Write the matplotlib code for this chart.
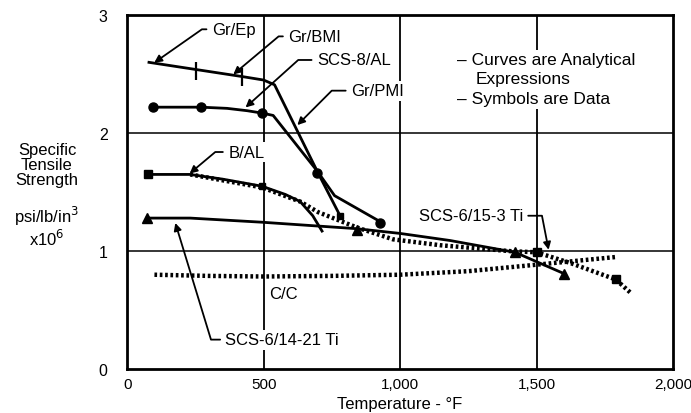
import matplotlib
matplotlib.use("Agg")
import matplotlib.pyplot as plt

plt.rcParams["font.family"] = ["Liberation Sans", "DejaVu Sans"]
plt.rcParams["font.size"] = 12

# --- curves (analytical expressions) ---
gr_x = [80, 250, 420, 500, 540, 700, 780]
gr_y = [2.60, 2.54, 2.48, 2.45, 2.41, 1.66, 1.30]

scs8_x = [95, 271, 366, 440, 494, 535, 696, 760, 927]
scs8_y = [2.22, 2.22, 2.21, 2.19, 2.17, 2.15, 1.68, 1.47, 1.25]

bal_x = [77, 230, 350, 494, 580, 634, 680, 714]
bal_y = [1.65, 1.65, 1.61, 1.55, 1.48, 1.42, 1.30, 1.17]

ti1421_x = [73, 231, 494, 842, 1000, 1183, 1421, 1600]
ti1421_y = [1.28, 1.28, 1.245, 1.19, 1.15, 1.09, 0.99, 0.81]

ti153_x = [231, 494, 634, 700, 842, 974, 1147, 1403, 1500, 1623, 1790, 1843]
ti153_y = [1.65, 1.54, 1.42, 1.33, 1.20, 1.10, 1.05, 1.00, 0.99, 0.90, 0.76, 0.65]

cc_x = [100, 300, 500, 750, 1000, 1250, 1500, 1790]
cc_y = [0.80, 0.79, 0.785, 0.79, 0.80, 0.83, 0.885, 0.95]

# --- symbols (data) ---
gr_pts_x = [253, 421]
gr_pts_y = [2.53, 2.48]
gr_end_x = [780]
gr_end_y = [1.30]

scs8_pts_x = [95, 271, 494, 696, 927]
scs8_pts_y = [2.22, 2.22, 2.17, 1.66, 1.24]

bal_pts_x = [77, 494]
bal_pts_y = [1.65, 1.55]

ti1421_pts_x = [73, 842, 1421, 1600]
ti1421_pts_y = [1.28, 1.18, 0.99, 0.81]

ti153_pts_x = [1500, 1790]
ti153_pts_y = [0.99, 0.76]

x_ticks = [0, 500, 1000, 1500, 2000]
x_tick_labels = ["0", "500", "1,000", "1,500", "2,000"]
y_ticks = [0, 1, 2, 3]

fig = plt.figure(figsize=(6.91, 4.14), dpi=100)
ax = fig.add_axes([0.184, 0.106, 0.79, 0.855])
ax.set_xlim(0, 2000)
ax.set_ylim(0, 3)

# grid
for gx in [500, 1000, 1500]:
    ax.axvline(gx, color="black", lw=1.3, zorder=1)
for gy in [1, 2]:
    ax.axhline(gy, color="black", lw=1.1, zorder=1)

for s in ax.spines.values():
    s.set_linewidth(2)

# curves
ax.plot(gr_x, gr_y, color="black", lw=2, zorder=3)
ax.plot(scs8_x, scs8_y, color="black", lw=2, zorder=3)
ax.plot(bal_x, bal_y, color="black", lw=2, zorder=3)
ax.plot(ti1421_x, ti1421_y, color="black", lw=2, zorder=3)
ax.plot(ti153_x, ti153_y, color="black", lw=3.2, ls=(0, (0.6, 0.6)), zorder=3)
ax.plot(cc_x, cc_y, color="black", lw=3.2, ls=(0, (0.6, 0.6)), zorder=3)

# symbols
ax.plot(gr_pts_x, gr_pts_y, ls="none", marker="|", ms=13, mew=1.6, color="black", zorder=4)
ax.plot(gr_end_x, gr_end_y, ls="none", marker="s", ms=4, color="black", zorder=4)
ax.plot(scs8_pts_x, scs8_pts_y, ls="none", marker="o", ms=6.5, color="black", zorder=4)
ax.plot(bal_pts_x[:1], bal_pts_y[:1], ls="none", marker="s", ms=6, color="black", zorder=4)
ax.plot(bal_pts_x[1:], bal_pts_y[1:], ls="none", marker="s", ms=4, color="black", zorder=4)
ax.plot(ti1421_pts_x, ti1421_pts_y, ls="none", marker="^", ms=7, color="black", zorder=4)
ax.plot(ti153_pts_x, ti153_pts_y, ls="none", marker="s", ms=5.5, color="black", zorder=4)

ax.set_xticks(x_ticks)
ax.set_xticklabels(x_tick_labels)
ax.set_yticks(y_ticks)
ax.tick_params(length=0, pad=6, labelsize=11.5)
ax.tick_params(axis="x", labelsize=11)
ax.tick_params(axis="y", pad=14)
ax.set_xlabel("Temperature - \u00b0F", fontsize=12, labelpad=3)

# y label block
fig.text(0.068, 0.600, "Specific\nTensile\nStrength", ha="center", va="center",
         fontsize=12, linespacing=1.0)
fig.text(0.068, 0.478, "psi/lb/in$^{3}$", ha="center", va="center", fontsize=12)
fig.text(0.068, 0.422, "x10$^{6}$", ha="center", va="center", fontsize=12)

box = dict(boxstyle="square,pad=0.15", fc="white", ec="none")
arrow = dict(arrowstyle="-|>", color="black", lw=1.3, mutation_scale=11, shrinkB=1)


def label(text, xy, xytext, angle_b, ha="left"):
    props = dict(arrow)
    props["connectionstyle"] = f"angle,angleA=0,angleB={angle_b},rad=0"
    ax.annotate(text, xy=xy, xytext=xytext, ha=ha, va="center", fontsize=12,
                bbox=box, arrowprops=props, zorder=5)


label("Gr/Ep", (95, 2.59), (310, 2.88), 35)
label("Gr/BMI", (385, 2.49), (590, 2.82), 40)
label("SCS-8/AL", (430, 2.21), (695, 2.62), 42)
label("Gr/PMI", (620, 2.06), (820, 2.36), 45)
label("B/AL", (225, 1.65), (370, 1.84), 40)
label("SCS-6/14-21 Ti", (175, 1.25), (360, 0.25), -73)
label("SCS-6/15-3 Ti", (1545, 1.0), (1450, 1.3), 101, ha="right")

ax.text(520, 0.64, "C/C", ha="left", va="center", fontsize=12, zorder=5)

ax.text(1210, 2.62, "\u2013 Curves are Analytical", ha="left", va="center",
        fontsize=12.5, bbox=box, zorder=5)
ax.text(1275, 2.46, "Expressions", ha="left", va="center", fontsize=12.5,
        bbox=box, zorder=5)
ax.text(1210, 2.29, "\u2013 Symbols are Data", ha="left", va="center",
        fontsize=12.5, bbox=box, zorder=5)

fig.savefig("out.png", dpi=100)
